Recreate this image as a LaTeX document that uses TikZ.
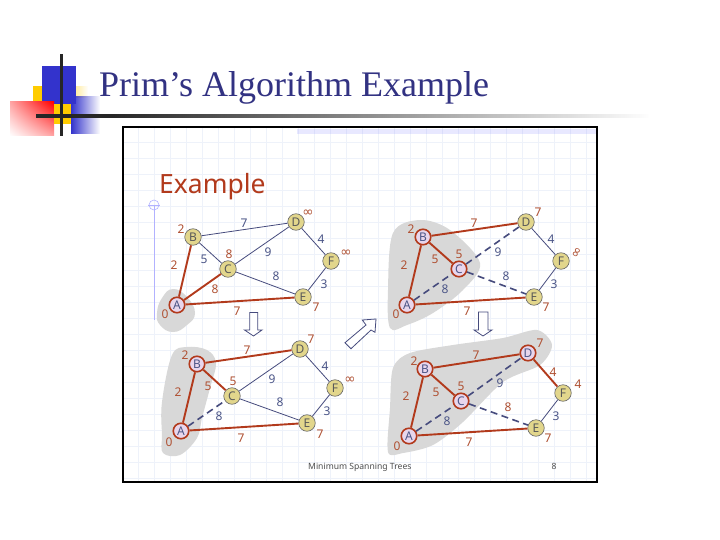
\documentclass[tikz,border=0pt]{standalone}
\usepackage{fontspec}
\setmainfont{Liberation Serif}
\setsansfont{Noto Sans}
\newfontfamily\symfam{DejaVu Sans}
\usetikzlibrary{fadings,shadings}
\definecolor{edgeblue}{RGB}{70,75,125}
\definecolor{treered}{RGB}{178,58,28}
\definecolor{numred}{RGB}{175,80,50}
\definecolor{numblue}{RGB}{75,85,135}
\definecolor{nodeyellow}{RGB}{226,214,140}
\definecolor{nodepink}{RGB}{232,214,236}
\definecolor{blobgray}{RGB}{216,216,216}
\definecolor{gridblue}{RGB}{238,242,250}
\definecolor{titleblue}{RGB}{50,50,130}
\definecolor{logoblue}{RGB}{51,51,204}
\definecolor{logoyellow}{RGB}{255,204,0}
\tikzfading[name=fadeR,left color=transparent!0,right color=transparent!100]
\tikzset{
 vx/.style={circle,draw=black!60,line width=.6pt,fill=nodeyellow,minimum size=16.5pt,inner sep=0pt,font=\sffamily\fontsize{12}{12}\selectfont,text=black!65},
 tv/.style={circle,draw=treered,line width=1.6pt,fill=nodepink,minimum size=15.5pt,inner sep=0pt,font=\sffamily\fontsize{12}{12}\selectfont,text=numblue},
 ed/.style={draw=edgeblue,line width=.8pt},
 tr/.style={draw=treered,line width=1.9pt},
 da/.style={draw=edgeblue,line width=1.6pt,dash pattern=on 7pt off 4.5pt},
 rn/.style={text=numred,font=\sffamily\fontsize{12}{12}\selectfont,inner sep=0pt},
 bn/.style={text=numblue,font=\sffamily\fontsize{12}{12}\selectfont,inner sep=0pt},
 inf/.style={text=numred,font=\symfam\fontsize{13.5}{14}\selectfont,inner sep=0pt},
 blob/.style={fill=blobgray,draw=none},
 barrow/.style={draw=edgeblue,line width=.8pt,fill=white},
 gridline/.style={gridblue,line width=.5pt},
 foot/.style={text=black!70,font=\sffamily\fontsize{8.6}{9}\selectfont,inner sep=0pt},
}
\begin{document}
\begin{tikzpicture}[x=1pt,y=-1pt]
\useasboundingbox (0,0) rectangle (720,540);
\fill[white] (0,0) rectangle (720,540);
% logo
\fill[logoyellow] (33,86) rectangle (44,102);
\fill[logoblue] (42,66) rectangle (76,104);
\fill[logoyellow!35!white,path fading=fadeR] (76,86) rectangle (88,98);
\shade[upper right=red,lower left=white,upper left=red!35,lower right=red!35] (10,102) rectangle (54,136);
\fill[logoyellow] (54,104) rectangle (71,124);
\fill[logoblue,path fading=fadeR] (71,96) rectangle (100,134);
\node[inner sep=0pt,anchor=base west,text=titleblue,font=\fontsize{36}{36}\selectfont] (title) at (99,97) {Prim’s Algorithm Example};
\fill[black!85] (36,114) rectangle (110,118);
\fill[black!85,path fading=fadeR] (110,114) rectangle (650,118);
\fill[black!85] (60,54) rectangle (63,136);
% frame
\fill[white] (123,127) rectangle (597,482);
\begin{scope}
\clip (124,128) rectangle (596,481);
\foreach \x in {138,154,...,586}
 \draw[gridline] (\x,128) -- (\x,481);
\foreach \y in {142,158,...,478}
 \draw[gridline] (124,\y) -- (596,\y);
\fill[blue!45!white,opacity=.2] (297,129) rectangle (596,134);
\end{scope}
\draw[black,line width=1.7pt] (123,127) rectangle (597,482);
\node[inner sep=0pt,anchor=base west,text=treered,font=\sffamily\fontsize{26.5}{27}\selectfont] (heading) at (159,194) {Example};
\draw[blue!30!white,line width=.6pt] (154,205) circle (5);
\draw[blue!30!white,line width=.6pt] (148,205) -- (160,205) (154,205) -- (154,320);
% blobs
\fill[blob] plot[smooth cycle,tension=.8] coordinates {(157,313) (162,298) (173,289) (187,297) (195,313) (187,325) (173,332) (160,325)};
\fill[blob] plot[smooth cycle,tension=.55] coordinates {(393,233) (420,220) (450,230) (480,263) (463,290) (433,313) (407,325) (390,328) (388,290)};
\fill[blob] plot[smooth cycle,tension=.6] coordinates {(163,453) (162,435) (162,402) (172,355) (187,347) (207,350) (216,363) (210,388) (202,418) (197,438) (180,455)};
\fill[blob] plot[smooth cycle,tension=.5] coordinates {(388,452) (390,408) (393,368) (410,353) (453,345) (503,338) (537,330) (552,345) (540,365) (503,382) (463,422) (433,445) (403,453)};
% block arrows
\draw[barrow] (249.7,312.5) -- (257.7,312.5) -- (257.7,330) -- (262,330) -- (253.5,336) -- (244.5,330) -- (249.7,330) -- cycle;
\draw[barrow] (478.5,312) -- (488,312) -- (488,330) -- (492,330) -- (483,336) -- (474,330) -- (478.5,330) -- cycle;
\draw[barrow] (345,342.7) -- (366,325) -- (362.3,320) -- (376,319) -- (375,332.3) -- (371,330) -- (351,348.7) -- cycle;
% graph 1
\node[tv] (a1) at (177,305) {A}; \node[vx] (b1) at (193,237) {B}; \node[vx] (c1) at (228,269) {C};
\node[vx] (d1) at (296,222) {D}; \node[vx] (e1) at (303,297) {E}; \node[vx] (f1) at (331,261) {F};
\draw[tr] (a1)--(b1) (a1)--(c1) (a1)--(e1);
\draw[ed] (b1)--(d1) (b1)--(c1) (c1)--(d1) (c1)--(e1) (d1)--(f1) (e1)--(f1);
\node[rn] at (181,229) {2}; \node[bn] at (244,223) {7}; \node[inf] at (308,213) {∞};
\node[bn] at (321,239) {4}; \node[inf] at (346,253) {∞}; \node[bn] at (268,252) {9};
\node[rn] at (229,254) {8}; \node[bn] at (204,259) {5}; \node[bn] at (276,276) {8};
\node[rn] at (174,265) {2}; \node[rn] at (215,289) {8}; \node[bn] at (324,284) {3};
\node[rn] at (316,307) {7}; \node[rn] at (237,311) {7}; \node[rn] at (165,314) {0};
% graph 2
\node[tv] (a2) at (407,305) {A}; \node[tv] (b2) at (423,237) {B}; \node[tv] (c2) at (459,269) {C};
\node[vx] (d2) at (526,222) {D}; \node[vx] (e2) at (534,297) {E}; \node[vx] (f2) at (561,261) {F};
\draw[tr] (a2)--(b2) (b2)--(c2) (b2)--(d2) (a2)--(e2);
\draw[da] (a2)--(c2) (c2)--(d2) (c2)--(e2);
\draw[ed] (d2)--(f2) (e2)--(f2);
\node[rn] at (411,229) {2}; \node[rn] at (474,223) {7}; \node[rn] at (538,212) {7};
\node[bn] at (551,239) {4}; \node[inf,rotate=60] at (577,253) {∞}; \node[bn] at (498,252) {9};
\node[rn] at (459,254) {5}; \node[rn] at (435,259) {5}; \node[bn] at (506,276) {8};
\node[rn] at (404,265) {2}; \node[bn] at (445,289) {8}; \node[bn] at (554,284) {3};
\node[rn] at (546,307) {7}; \node[rn] at (467,311) {7}; \node[rn] at (396,314) {0};
% graph 3
\node[tv] (a3) at (181,431) {A}; \node[tv] (b3) at (197,364) {B}; \node[vx] (c3) at (232,396) {C};
\node[vx] (d3) at (300,349) {D}; \node[vx] (e3) at (307,423) {E}; \node[vx] (f3) at (335,388) {F};
\draw[tr] (a3)--(b3) (b3)--(d3) (b3)--(c3) (a3)--(e3);
\draw[da] (a3)--(c3);
\draw[ed] (c3)--(d3) (c3)--(e3) (d3)--(f3) (e3)--(f3);
\node[rn] at (185,355) {2}; \node[rn] at (247,350) {7}; \node[rn] at (311,339) {7};
\node[bn] at (325,366) {4}; \node[inf] at (350,380) {∞}; \node[bn] at (272,379) {9};
\node[rn] at (233,381) {5}; \node[rn] at (208,386) {5}; \node[bn] at (280,402) {8};
\node[rn] at (178,392) {2}; \node[bn] at (219,416) {8}; \node[bn] at (327,411) {3};
\node[rn] at (320,434) {7}; \node[rn] at (241,438) {7}; \node[rn] at (169,442) {0};
% graph 4
\node[tv] (a4) at (409,436) {A}; \node[tv] (b4) at (425,369) {B}; \node[tv] (c4) at (461,401) {C};
\node[tv] (d4) at (528,353) {D}; \node[vx] (e4) at (536,428) {E}; \node[vx] (f4) at (563,393) {F};
\draw[tr] (a4)--(b4) (b4)--(c4) (b4)--(d4) (d4)--(f4) (a4)--(e4);
\draw[da] (a4)--(c4) (c4)--(d4) (c4)--(e4);
\draw[ed] (e4)--(f4);
\node[rn] at (414,361) {2}; \node[rn] at (476,355) {7}; \node[rn] at (540,343) {7};
\node[rn] at (553,372) {4}; \node[rn] at (578,384) {4}; \node[bn] at (500,383) {9};
\node[rn] at (461,386) {5}; \node[rn] at (436,392) {5}; \node[rn] at (508,407) {8};
\node[rn] at (406,396) {2}; \node[bn] at (447,421) {8}; \node[bn] at (556,416) {3};
\node[rn] at (548,438) {7}; \node[rn] at (469,442) {7}; \node[rn] at (397,446) {0};
% footer
\node[foot,anchor=west] (foottext) at (308,467) {Minimum Spanning Trees};
\node[foot] (pageno) at (554,466) {8};
\end{tikzpicture}
\end{document}
